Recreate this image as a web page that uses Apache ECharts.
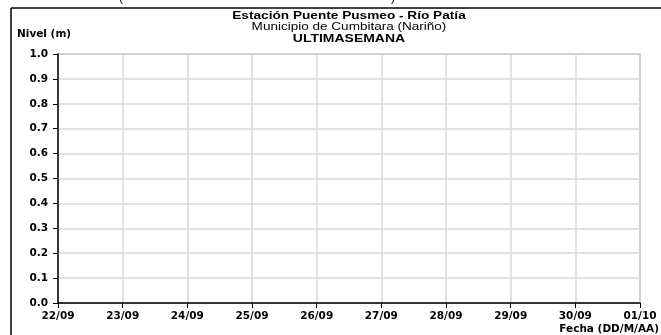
<!DOCTYPE html>
<html>
<head>
<meta charset="utf-8">
<script src="https://cdn.jsdelivr.net/npm/echarts@6/dist/echarts.min.js"></script>
<style>
html,body{margin:0;padding:0;background:#fff;}
#chart{width:661px;height:335px;}
</style>
</head>
<body>
<div id="chart"></div>
<script>
var categories = ['22/09','23/09','24/09','25/09','26/09','27/09','28/09','29/09','30/09','01/10'];
var nivelValues = [];
var yMin = 0, yMax = 1, yStep = 0.1;
var titleLines = ['Estación Puente Pusmeo - Río Patía', 'Municipio de Cumbitara (Nariño)', 'ULTIMASEMANA'];
var yAxisName = 'Nivel (m)';
var xAxisName = 'Fecha (DD/M/AA)';

var chart = echarts.init(document.getElementById('chart'), null, {renderer: 'canvas'});
var lab = {fontFamily: 'DejaVu Sans', fontWeight: 'bold', fontSize: 10.5, color: '#000'};
chart.setOption({
  animation: false,
  backgroundColor: '#fff',
  grid: {left: 58, right: 21, top: 54, bottom: 32, show: true, borderColor: '#a6a6a6', borderWidth: 1.5, backgroundColor: 'transparent'},
  xAxis: {
    type: 'category', data: categories, boundaryGap: false,
    axisLine: {lineStyle: {color: '#000', width: 1.5}},
    axisTick: {show: true, length: 5, lineStyle: {color: '#000', width: 1}},
    axisLabel: Object.assign({margin: 8, interval: 0}, lab),
    splitLine: {show: true, lineStyle: {color: '#d9d9d9', width: 1.5}}
  },
  yAxis: {
    type: 'value', min: yMin, max: yMax, interval: yStep,
    axisLine: {show: true, lineStyle: {color: '#000', width: 1.5}},
    axisTick: {show: true, length: 5, lineStyle: {color: '#000', width: 1}},
    axisLabel: Object.assign({margin: 10, formatter: function(v){return v.toFixed(1);}}, lab),
    splitLine: {show: true, lineStyle: {color: '#d9d9d9', width: 1.5}}
  },
  series: [{type: 'line', data: nivelValues, symbol: 'none', lineStyle: {color: '#1f4e9c'}}],
  graphic: [
    {type: 'line', shape: {x1: 11, y1: 8, x2: 661, y2: 8}, style: {stroke: '#000', lineWidth: 1.5}},
    {type: 'line', shape: {x1: 11, y1: 8, x2: 11, y2: 335}, style: {stroke: '#000', lineWidth: 1.5}},
    {type: 'text', left: 119, top: -8, style: {text: '(', fontFamily: 'Liberation Sans', fontSize: 12, fill: '#000'}},
    {type: 'text', left: 391, top: -8, style: {text: ')', fontFamily: 'Liberation Sans', fontSize: 12, fill: '#000'}},
    {type: 'text', x: 349, y: 16, scaleX: 1.24, style: {text: titleLines[0], align: 'center', verticalAlign: 'middle', fontFamily: 'Liberation Sans', fontWeight: 'bold', fontSize: 11, fill: '#000'}},
    {type: 'text', x: 349, y: 27, scaleX: 1.23, style: {text: titleLines[1], align: 'center', verticalAlign: 'middle', fontFamily: 'Liberation Sans', fontSize: 11, fill: '#000'}},
    {type: 'text', x: 349, y: 39, scaleX: 1.27, style: {text: titleLines[2], align: 'center', verticalAlign: 'middle', fontFamily: 'Liberation Sans', fontWeight: 'bold', fontSize: 11, fill: '#000'}},
    {type: 'text', x: 17, y: 34, style: {text: yAxisName, align: 'left', verticalAlign: 'middle', fontFamily: 'DejaVu Sans', fontWeight: 'bold', fontSize: 10.5, fill: '#000'}},
    {type: 'text', x: 659, y: 329, style: {text: xAxisName, align: 'right', verticalAlign: 'middle', fontFamily: 'DejaVu Sans', fontWeight: 'bold', fontSize: 10.5, fill: '#000'}}
  ]
});
</script>
</body>
</html>
